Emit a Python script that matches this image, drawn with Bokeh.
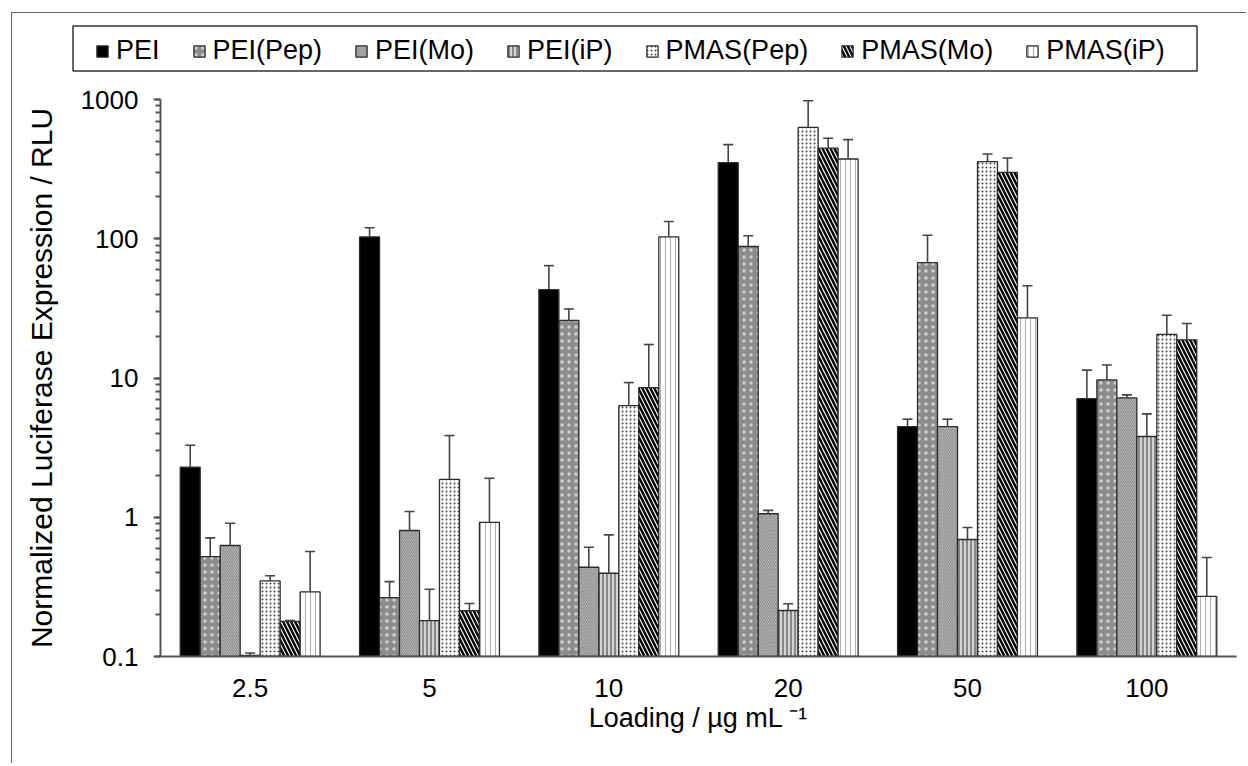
from bokeh.plotting import figure
from bokeh.layouts import column
from bokeh.models import (ColumnDataSource, Whisker, TeeHead, Legend, LegendItem,
                          FixedTicker, LogTicker, Range1d)
from bokeh.embed import file_html
from bokeh.resources import INLINE

# ---------------- data ----------------
loadings = ["2.5", "5", "10", "20", "50", "100"]
series = ["PEI", "PEI(Pep)", "PEI(Mo)", "PEI(iP)", "PMAS(Pep)", "PMAS(Mo)", "PMAS(iP)"]

pei = [2.29, 103, 43.1, 352, 4.48, 7.11]
pei_err = [3.29, 120, 64.1, 474, 5.06, 11.4]
pei_pep = [0.522, 0.265, 25.9, 88, 67.3, 9.69]
pei_pep_err = [0.711, 0.345, 31.3, 105, 106, 12.4]
pei_mo = [0.627, 0.803, 0.4375, 1.06, 4.48, 7.2]
pei_mo_err = [0.906, 1.10, 0.609, 1.12, 5.06, 7.56]
pei_ip = [0.102, 0.181, 0.396, 0.214, 0.692, 3.80]
pei_ip_err = [0.106, 0.304, 0.747, 0.239, 0.844, 5.53]
pmas_pep = [0.349, 1.87, 6.34, 630, 358, 20.6]
pmas_pep_err = [0.38, 3.86, 9.27, 979, 406, 28.2]
pmas_mo = [0.179, 0.213, 8.53, 447, 300, 18.8]
pmas_mo_err = [0.181, 0.24, 17.4, 527, 380, 24.6]
pmas_ip = [0.291, 0.92, 103, 374, 27, 0.27]
pmas_ip_err = [0.567, 1.905, 133, 515, 46, 0.514]

values = [pei, pei_pep, pei_mo, pei_ip, pmas_pep, pmas_mo, pmas_ip]
errors = [pei_err, pei_pep_err, pei_mo_err, pei_ip_err, pmas_pep_err, pmas_mo_err, pmas_ip_err]

y_ticks = [0.1, 1, 10, 100, 1000]
y_tick_labels = ["0.1", "1", "10", "100", "1000"]

# ---------------- styles ----------------
styles = [
    dict(fill_color="black"),
    dict(fill_color="#8c8c8c", hatch_pattern="dot", hatch_color="#cfcfcf", hatch_scale=7, hatch_weight=0.6),
    dict(fill_color="#d0d0d0", hatch_pattern="left_diagonal_line", hatch_color="#7a7a7a", hatch_scale=3.5, hatch_weight=0.9),
    dict(fill_color="#d4d4d4", hatch_pattern="vertical_line", hatch_color="#747474", hatch_scale=4, hatch_weight=1.6),
    dict(fill_color="white", hatch_pattern="dot", hatch_color="#444444", hatch_scale=4, hatch_weight=0.8),
    dict(fill_color="white", hatch_pattern="left_diagonal_line", hatch_color="black", hatch_scale=8, hatch_weight=2.4),
    dict(fill_color="white", hatch_pattern="vertical_line", hatch_color="#b0b0b0", hatch_scale=5, hatch_weight=1.1),
]
EDGE = "#2a2a2a"
FONT = "Liberation Sans"
W = 1234

# ---------------- main chart ----------------
p = figure(width=W, height=678, output_backend="svg", toolbar_location=None,
           y_axis_type="log", x_range=Range1d(-0.5, 5.5), y_range=Range1d(0.1, 1000),
           min_border_left=148, min_border_right=10, min_border_top=14, min_border_bottom=107)
p.frame_align = False
p.outline_line_color = None
p.grid.visible = False
p.background_fill_color = "white"
p.border_fill_color = "white"

bw = 20 / 179.5
for i, (name, vals, errs, st) in enumerate(zip(series, values, errors, styles)):
    xs = [g + (i - 3) * bw for g in range(len(loadings))]
    src = ColumnDataSource(dict(x=xs, top=vals, err=errs))
    p.vbar(x="x", top="top", bottom=0.1, width=bw, source=src,
           line_color=EDGE, line_width=1.3, **st)
    w = Whisker(source=src, base="x", lower="top", upper="err", dimension="height",
                line_color="#444444", line_width=1.6,
                upper_head=TeeHead(size=10, line_color="#444444", line_width=1.6),
                lower_head=None, level="annotation")
    p.add_layout(w)

p.xaxis.ticker = FixedTicker(ticks=list(range(len(loadings))))
p.xaxis.major_label_overrides = {i: lab for i, lab in enumerate(loadings)}
p.xaxis.major_tick_out = 0
p.xaxis.major_tick_in = 0
p.xaxis.minor_tick_out = 0
p.xaxis.axis_label = "Loading / µg mL \u207b\u00b9"

p.yaxis.ticker = LogTicker(num_minor_ticks=10, mantissas=[1])
p.yaxis.major_label_overrides = {t: lab for t, lab in zip(y_ticks, y_tick_labels)}
p.yaxis.axis_label = "Normalized Luciferase Expression / RLU"
p.yaxis.major_tick_out = 7
p.yaxis.major_tick_in = 0
p.yaxis.minor_tick_out = 5
p.yaxis.minor_tick_in = 0

for ax in (p.xaxis[0], p.yaxis[0]):
    ax.axis_line_color = "#555555"
    ax.axis_line_width = 2
    ax.major_tick_line_color = "#555555"
    ax.major_tick_line_width = 2
    ax.minor_tick_line_color = "#555555"
    ax.minor_tick_line_width = 2
    ax.major_label_text_font = FONT
    ax.major_label_text_font_size = "26px"
    ax.major_label_text_color = "black"
    ax.axis_label_text_font = FONT
    ax.axis_label_text_font_style = "normal"
    ax.axis_label_text_color = "black"

p.yaxis.axis_label_text_font_size = "30px"
p.xaxis.axis_label_text_font_size = "27px"
p.yaxis.major_label_standoff = 15
p.yaxis.axis_label_standoff = 20
p.xaxis.major_label_standoff = 22
p.xaxis.axis_label_standoff = 3

# ---------------- legend strip ----------------
H1 = 72
lg = figure(width=W, height=H1, output_backend="svg", toolbar_location=None,
            x_range=Range1d(0, W), y_range=Range1d(0, H1),
            x_axis_type=None, y_axis_type=None,
            min_border_left=0, min_border_right=0, min_border_top=0, min_border_bottom=0)
lg.frame_align = False
lg.outline_line_color = None
lg.grid.visible = False
lg.background_fill_color = "white"
lg.border_fill_color = "white"

items = []
for name, st in zip(series, styles):
    # legend swatch renderer (no visible bar: its height is NaN)
    r = lg.vbar(x=[0], top=[float("nan")], bottom=[0], width=1,
                line_color=EDGE, line_width=1.3, **st)
    items.append(LegendItem(label=name, renderers=[r]))

lg.quad(left=[60.5], right=[1184.5], top=[59.5], bottom=[14.5],
        fill_alpha=0, line_color="#333333", line_width=1.5)

legend = Legend(items=items, orientation="horizontal", location=(83, 19),
                label_text_font=FONT, label_text_font_size="27px", label_text_color="black",
                glyph_width=14, glyph_height=14, label_standoff=7, spacing=32,
                padding=6, margin=0, border_line_color=None,
                background_fill_alpha=0)
lg.add_layout(legend)

layout = column(lg, p, margin=(12, 0, 0, 11), spacing=0,
                styles={"border-top": "1.5px solid #666666",
                        "border-left": "1.5px solid #666666"})

open("out.html", "w").write(file_html(layout, INLINE))
